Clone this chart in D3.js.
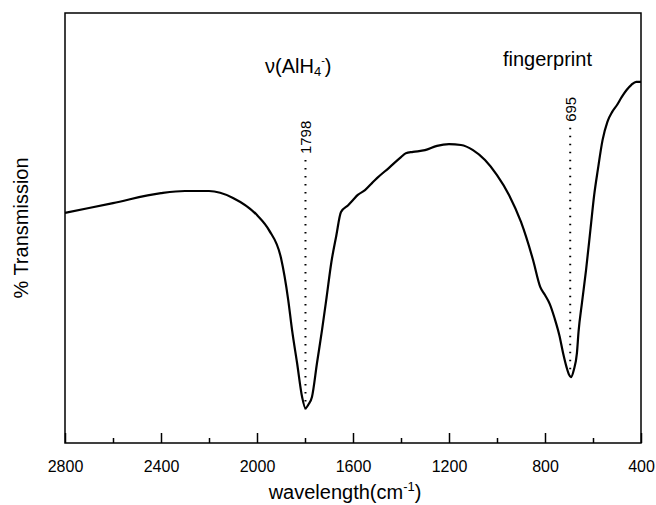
<!DOCTYPE html>
<html>
<head>
<meta charset="utf-8">
<script src="https://cdn.jsdelivr.net/npm/d3@7"></script>
<style>
  body { margin: 0; background: #fff; }
  svg text { font-family: "Liberation Sans", Arial, sans-serif; fill: #000; }
</style>
</head>
<body>
<svg width="656" height="505"></svg>
<script>
// wavenumber (cm-1) and % transmission
const wavenumber = [2800, 2600, 2400, 2300, 2200, 2100, 2000, 1950, 1900, 1870, 1854, 1833, 1812, 1798, 1785, 1771, 1750, 1729, 1710, 1690, 1670, 1650, 1620, 1600, 1580, 1550, 1520, 1500, 1450, 1400, 1380, 1350, 1300, 1250, 1200, 1150, 1100, 1050, 1000, 950, 900, 850, 820, 800, 780, 760, 740, 725, 710, 700, 692, 680, 667, 660, 646, 629, 610, 595, 580, 560, 540, 520, 500, 480, 460, 440, 420, 400];
const transmission = [53.5, 55.8, 58.1, 58.6, 58.6, 57.0, 53.0, 49.5, 43.0, 33.3, 26.3, 18.6, 10.7, 8.1, 9.0, 10.7, 18.6, 26.3, 33.9, 42.1, 48.1, 53.7, 55.3, 56.5, 57.7, 58.8, 60.5, 61.6, 64.0, 66.5, 67.4, 67.7, 68.1, 69.1, 69.5, 69.3, 68.1, 65.8, 62.3, 57.7, 51.4, 42.6, 36.3, 34.4, 32.3, 29.0, 25.0, 21.0, 17.6, 15.9, 15.3, 17.0, 20.9, 26.0, 32.6, 40.2, 50.0, 57.7, 63.5, 70.5, 74.7, 77.0, 78.6, 80.5, 82.1, 83.3, 84.0, 84.0];

const majorTicks = [2800, 2400, 2000, 1600, 1200, 800, 400];
const minorTicks = [2600, 2200, 1800, 1400, 1000, 600];

// peak markers: position, top and bottom of the dotted line
const peaks = [
  { wn: 1798, label: "1798", top: 65.8, bottom: 7.7 },
  { wn: 695, label: "695", top: 73.3, bottom: 15.6 }
];

const svg = d3.select("svg");
const margin = { left: 65, right: 15, top: 13, bottom: 62 };
const w = 656 - margin.left - margin.right;
const h = 505 - margin.top - margin.bottom;

const x = d3.scaleLinear().domain([2800, 400]).range([0, w]);
const y = d3.scaleLinear().domain([0, 100]).range([h, 0]);

const g = svg.append("g").attr("transform", `translate(${margin.left},${margin.top})`);

// eje x con ticks hacia dentro
const ejeX = g.append("g")
  .attr("transform", `translate(0,${h})`)
  .call(d3.axisBottom(x).tickValues(majorTicks).tickSize(-10).tickPadding(18).tickFormat(d3.format("d")));
ejeX.select(".domain").remove();
ejeX.selectAll("text").style("font-size", "16px");
ejeX.selectAll("line").attr("stroke-width", 1.5);

const menores = g.append("g")
  .attr("transform", `translate(0,${h})`)
  .call(d3.axisBottom(x).tickValues(minorTicks).tickSize(-5).tickFormat(""));
menores.select(".domain").remove();
menores.selectAll("line").attr("stroke-width", 1.5);

// marco
g.append("rect")
  .attr("width", w).attr("height", h)
  .attr("fill", "none").attr("stroke", "#000").attr("stroke-width", 1.5);

// lineas punteadas de los picos
g.selectAll(".pico")
  .data(peaks)
  .enter()
  .append("line")
  .attr("class", "pico")
  .attr("x1", d => x(d.wn)).attr("x2", d => x(d.wn))
  .attr("y1", d => y(d.top)).attr("y2", d => y(d.bottom))
  .attr("stroke", "#000").attr("stroke-width", 2)
  .attr("stroke-dasharray", "1.5,6.5");

g.selectAll(".etiquetaPico")
  .data(peaks)
  .enter()
  .append("text")
  .attr("transform", d => `translate(${x(d.wn) + 6},${y(d.top) - 6}) rotate(-90)`)
  .style("font-size", "15px")
  .text(d => d.label);

// espectro
const datos = wavenumber.map((wn, i) => [wn, transmission[i]]);
g.append("path")
  .datum(datos)
  .attr("fill", "none")
  .attr("stroke", "#000")
  .attr("stroke-width", 2.2)
  .attr("d", d3.line().x(d => x(d[0])).y(d => y(d[1])).curve(d3.curveMonotoneX));

// anotaciones
const nu = g.append("text")
  .attr("x", 265 - margin.left).attr("y", 73 - margin.top)
  .style("font-size", "20px");
nu.append("tspan").text("\u03bd(AlH");
nu.append("tspan").attr("dy", 3).style("font-size", "13px").text("4");
nu.append("tspan").attr("dy", -12).style("font-size", "11px").text("-");
nu.append("tspan").attr("dy", 9).text(")");

g.append("text")
  .attr("x", 503 - margin.left).attr("y", 66 - margin.top)
  .style("font-size", "20px")
  .text("fingerprint");

// titulos de ejes
const tx = svg.append("text")
  .attr("x", margin.left + w / 2 - 8).attr("y", 499)
  .attr("text-anchor", "middle")
  .style("font-size", "20px");
tx.append("tspan").text("wavelength(cm");
tx.append("tspan").attr("dy", -8).style("font-size", "13px").text("-1");
tx.append("tspan").attr("dy", 8).text(")");

svg.append("text")
  .attr("transform", `translate(28,${margin.top + h / 2}) rotate(-90)`)
  .attr("text-anchor", "middle")
  .style("font-size", "20px")
  .text("% Transmission");
</script>
</body>
</html>
